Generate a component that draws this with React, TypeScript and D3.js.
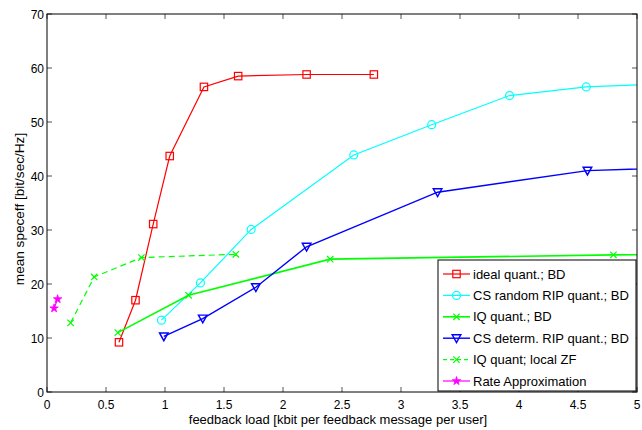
import React from "react";
import * as d3 from "d3";

const xTicks = [0, 0.5, 1, 1.5, 2, 2.5, 3, 3.5, 4, 4.5, 5];
const yTicks = [0, 10, 20, 30, 40, 50, 60, 70];

const idealX = [0.61, 0.75, 0.9, 1.04, 1.33, 1.62, 2.2, 2.77];
const idealY = [9.2, 17.0, 31.1, 43.7, 56.5, 58.5, 58.8, 58.8];

const csRandX = [0.97, 1.3, 1.73, 2.6, 3.26, 3.92, 4.57, 5.23];
const csRandY = [13.3, 20.2, 30.1, 43.9, 49.5, 54.9, 56.5, 57.1];

const iqX = [0.6, 1.2, 2.4, 4.8, 9.6];
const iqY = [11.0, 17.9, 24.6, 25.4, 26.5];

const csDetX = [0.99, 1.32, 1.77, 2.2, 3.31, 4.58, 5.85];
const csDetY = [10.3, 13.6, 19.4, 26.9, 37.0, 41.0, 41.9];

const iqZfX = [0.2, 0.4, 0.8, 1.6];
const iqZfY = [12.8, 21.3, 24.9, 25.5];

const rateX = [0.06, 0.09];
const rateY = [15.5, 17.2];

type Marker = "square" | "circle" | "x" | "tri" | "star";

interface Series {
  name: string;
  xs: number[];
  ys: number[];
  color: string;
  marker: Marker;
  dash?: string;
  width: number;
}

const series: Series[] = [
  { name: "ideal quant.; BD", xs: idealX, ys: idealY, color: "#ff0000", marker: "square", width: 1.2 },
  { name: "CS random RIP quant.; BD", xs: csRandX, ys: csRandY, color: "#00ffff", marker: "circle", width: 1.2 },
  { name: "IQ quant.; BD", xs: iqX, ys: iqY, color: "#00ff00", marker: "x", width: 1.6 },
  { name: "CS determ. RIP quant.; BD", xs: csDetX, ys: csDetY, color: "#0000ff", marker: "tri", width: 1.4 },
  { name: "IQ quant; local ZF", xs: iqZfX, ys: iqZfY, color: "#00ff00", marker: "x", dash: "6,4", width: 1.2 },
  { name: "Rate Approximation", xs: rateX, ys: rateY, color: "#ff00ff", marker: "star", width: 1.2 },
];

const W = 642;
const H = 430;
const L = 47;
const R = 637;
const T = 14;
const B = 392;

const x = d3.scaleLinear().domain([0, 5]).range([L, R]);
const y = d3.scaleLinear().domain([0, 70]).range([B, T]);

function MarkerShape({ m, cx, cy, color }: { m: Marker; cx: number; cy: number; color: string }) {
  const sw = 1.2;
  if (m === "square") {
    return <rect x={cx - 3.7} y={cy - 3.7} width={7.4} height={7.4} fill="none" stroke={color} strokeWidth={sw} />;
  }
  if (m === "circle") {
    return <circle cx={cx} cy={cy} r={4} fill="none" stroke={color} strokeWidth={sw} />;
  }
  if (m === "x") {
    const s = 3.2;
    return (
      <path d={`M${cx - s},${cy - s}L${cx + s},${cy + s}M${cx - s},${cy + s}L${cx + s},${cy - s}`} stroke={color} strokeWidth={sw} fill="none" />
    );
  }
  if (m === "tri") {
    const s = 4.3;
    return (
      <path d={`M${cx - s},${cy - s * 0.8}L${cx + s},${cy - s * 0.8}L${cx},${cy + s}Z`} fill="none" stroke={color} strokeWidth={sw * 1.2} />
    );
  }
  const star = d3.symbol(d3.symbolStar, 22)();
  return <path d={star as string} transform={`translate(${cx},${cy})`} fill={color} stroke={color} strokeWidth={0.8} />;
}

export default function App() {
  const line = d3.line<[number, number]>().x((d) => x(d[0])).y((d) => y(d[1]));
  const font = "'Liberation Sans', Arial, Helvetica, sans-serif";
  const legendX = 438;
  const legendY = 260;
  const legendW = 198;
  const legendH = 131;
  const rowY0 = 274;
  const rowStep = 21.4;

  return (
    <svg width={W} height={H} style={{ position: "absolute", left: 0, top: 0 }} fontFamily={font}>
      <rect x={0} y={0} width={W} height={H} fill="#fff" />
      <defs>
        <clipPath id="plot">
          <rect x={L} y={T} width={R - L} height={B - T} />
        </clipPath>
      </defs>
      {xTicks.map((t) => (
        <g key={"xt" + t}>
          <line x1={x(t)} x2={x(t)} y1={B} y2={B - 5} stroke="#555" />
          <line x1={x(t)} x2={x(t)} y1={T} y2={T + 5} stroke="#555" />
          <text x={x(t)} y={B + 17} textAnchor="middle" fontSize={12} fill="#000">
            {t}
          </text>
        </g>
      ))}
      {yTicks.map((t) => (
        <g key={"yt" + t}>
          <line x1={L} x2={L + 5} y1={y(t)} y2={y(t)} stroke="#555" />
          <line x1={R} x2={R - 5} y1={y(t)} y2={y(t)} stroke="#555" />
          <text x={L - 3} y={y(t) + 4.5} textAnchor="end" fontSize={12} fill="#000">
            {t}
          </text>
        </g>
      ))}
      <g clipPath="url(#plot)">
        {series.map((s) => {
          const pts = s.xs.map((v, i) => [v, s.ys[i]] as [number, number]);
          return (
            <g key={s.name}>
              <path d={line(pts) as string} fill="none" stroke={s.color} strokeWidth={s.width} strokeDasharray={s.dash} />
              {pts.map((p, i) => (
                <MarkerShape key={i} m={s.marker} cx={x(p[0])} cy={y(p[1])} color={s.color} />
              ))}
            </g>
          );
        })}
      </g>
      <rect x={L} y={T} width={R - L} height={B - T} fill="none" stroke="#000" strokeWidth={1} />
      <rect x={legendX} y={legendY} width={legendW} height={legendH} fill="#fff" stroke="#000" strokeWidth={1} />
      {series.map((s, i) => {
        const ry = rowY0 + i * rowStep;
        return (
          <g key={"lg" + s.name}>
            <line x1={443} x2={470} y1={ry} y2={ry} stroke={s.color} strokeWidth={s.width} strokeDasharray={s.dash ? "4,3" : undefined} />
            <MarkerShape m={s.marker} cx={456.5} cy={ry} color={s.color} />
            <text x={473} y={ry + 4.5} fontSize={13} fill="#000">
              {s.name}
            </text>
          </g>
        );
      })}
      <text x={338} y={424} textAnchor="middle" fontSize={13} fill="#000">
        feedback load [kbit per feedback message per user]
      </text>
      <text transform={`translate(24,209) rotate(-90)`} textAnchor="middle" fontSize={13.6} fill="#000">
        mean speceff [bit/sec/Hz]
      </text>
    </svg>
  );
}
